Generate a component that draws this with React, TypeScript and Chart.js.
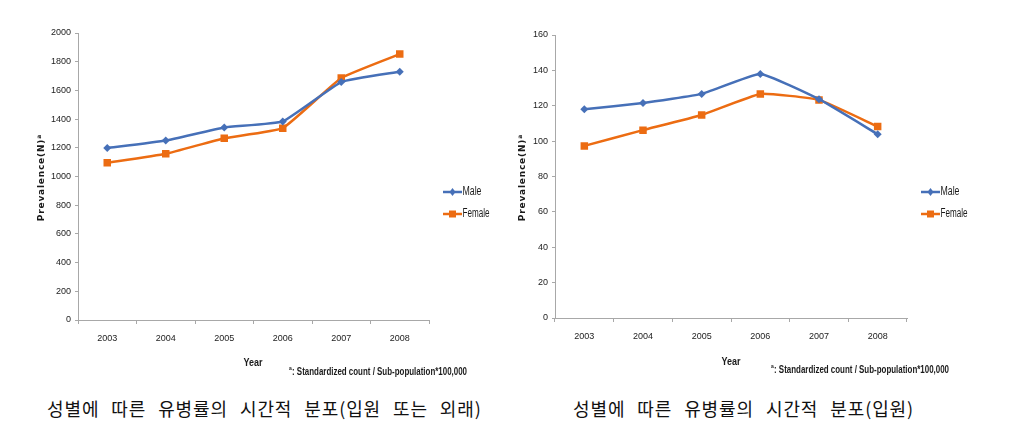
import React, { useEffect, useRef } from "react";
import { Chart, registerables } from "chart.js";

Chart.register(...registerables);

const years = ["2003", "2004", "2005", "2006", "2007", "2008"];
const maleTotal = [1198, 1251, 1342, 1384, 1658, 1730];
const femaleTotal = [1095, 1158, 1267, 1337, 1686, 1853];
const maleInpatient = [118.0, 121.6, 126.7, 138.0, 123.7, 103.9];
const femaleInpatient = [97.3, 106.2, 114.8, 126.7, 123.3, 108.2];
const seriesNames = ["Male", "Female"];
const captions = ["성별에 따른 유병률의 시간적 분포(입원 또는 외래)", "성별에 따른 유병률의 시간적 분포(입원)"];

const BLUE = "#4670B8";
const ORANGE = "#EC6C12";
const AXIS = "#A8A8A8";
const TICKFONT = "'Liberation Sans Narrow', 'Liberation Sans', sans-serif";

type Pos = {
  yTitle: [number, number];
  xTitle: [number, number];
  note: [number, number];
  legend: [number, number, number];
};

const annotate = (pos: Pos) => ({
  id: "annot",
  afterDraw(chart: any) {
    const ctx = chart.ctx as CanvasRenderingContext2D;
    ctx.save();
    // y title
    ctx.translate(pos.yTitle[0], pos.yTitle[1]);
    ctx.rotate(-Math.PI / 2);
    ctx.fillStyle = "#1a1a1a";
    ctx.font = "bold 9px 'DejaVu Sans', sans-serif";
    (ctx as any).letterSpacing = "0.8px";
    ctx.textAlign = "center";
    ctx.textBaseline = "middle";
    const t = "Prevalence(N)";
    const w = ctx.measureText(t).width;
    ctx.fillText(t, -3, 0);
    ctx.font = "bold 6px 'DejaVu Sans', sans-serif";
    ctx.textAlign = "left";
    ctx.fillText("a", -3 + w / 2, -3);
    ctx.restore();

    ctx.save();
    (ctx as any).letterSpacing = "0px";
    ctx.fillStyle = "#1a1a1a";
    ctx.font = "bold 11px " + TICKFONT;
    ctx.textAlign = "center";
    ctx.textBaseline = "middle";
    ctx.fillText("Year", pos.xTitle[0], pos.xTitle[1], 19);

    ctx.textAlign = "left";
    ctx.font = "bold 5px " + TICKFONT;
    ctx.fillText("a", pos.note[0], pos.note[1] - 3);
    ctx.font = "bold 10.5px " + TICKFONT;
    ctx.fillText(": Standardized count / Sub-population*100,000", pos.note[0] + 3, pos.note[1], 175);

    // legend
    const [lx, ly, gap] = pos.legend;
    const colors = [BLUE, ORANGE];
    seriesNames.forEach((name, i) => {
      const y = ly + i * gap;
      ctx.strokeStyle = colors[i];
      ctx.fillStyle = colors[i];
      ctx.lineWidth = 2.5;
      ctx.beginPath();
      ctx.moveTo(lx, y);
      ctx.lineTo(lx + 19, y);
      ctx.stroke();
      ctx.beginPath();
      const cx = lx + 9.5;
      if (i === 0) {
        ctx.moveTo(cx, y - 4);
        ctx.lineTo(cx + 3, y);
        ctx.lineTo(cx, y + 4);
        ctx.lineTo(cx - 3, y);
        ctx.closePath();
      } else {
        ctx.rect(cx - 3.5, y - 3.5, 7, 7);
      }
      ctx.fill();
      ctx.fillStyle = "#1a1a1a";
      ctx.font = "12px " + TICKFONT;
      ctx.textBaseline = "middle";
      ctx.fillText(name, lx + 19.5, y, i === 0 ? 19 : 27);
    });
    ctx.restore();
  },
});

function makeConfig(
  male: number[],
  female: number[],
  yMax: number,
  yStep: number,
  yWidth: number,
  xHeight: number,
  padding: any,
  pos: Pos
): any {
  return {
    type: "line",
    data: {
      labels: years,
      datasets: [
        {
          label: seriesNames[0],
          data: male,
          borderColor: BLUE,
          backgroundColor: BLUE,
          borderWidth: 2.5,
          pointStyle: "rectRot",
          pointRadius: 4,
          pointBorderWidth: 0,
          tension: 0.12,
        },
        {
          label: seriesNames[1],
          data: female,
          borderColor: ORANGE,
          backgroundColor: ORANGE,
          borderWidth: 2.5,
          pointStyle: "rect",
          pointRadius: 5.3,
          pointBorderWidth: 0,
          tension: 0.12,
        },
      ],
    },
    options: {
      animation: false,
      responsive: false,
      layout: { padding },
      plugins: { legend: { display: false }, tooltip: { enabled: false } },
      scales: {
        x: {
          offset: true,
          grid: {
            display: true,
            offset: true,
            drawOnChartArea: false,
            drawTicks: true,
            tickLength: 4,
            color: AXIS,
          },
          border: { display: true, color: AXIS, width: 1 },
          ticks: { color: "#222", font: { family: TICKFONT, size: 9 }, padding: 9, maxRotation: 0 },
          afterFit: (s: any) => {
            s.height = xHeight;
          },
        },
        y: {
          min: 0,
          max: yMax,
          grid: { display: true, drawOnChartArea: false, drawTicks: true, tickLength: 3, color: AXIS },
          border: { display: true, color: AXIS, width: 1 },
          ticks: {
            stepSize: yStep,
            color: "#222",
            font: { family: TICKFONT, size: 9 },
            padding: 4,
            callback: (v: any) => String(v),
          },
          afterFit: (s: any) => {
            s.width = yWidth;
          },
        },
      },
    },
    plugins: [annotate(pos)],
  };
}

function ChartBox(props: { left: number; width: number; height: number; config: any }) {
  const ref = useRef<HTMLCanvasElement | null>(null);
  useEffect(() => {
    if (!ref.current) return;
    const c = new Chart(ref.current, props.config);
    return () => c.destroy();
  }, []);
  return (
    <canvas
      ref={ref}
      width={props.width}
      height={props.height}
      style={{ position: "absolute", left: props.left, top: 0, width: props.width, height: props.height }}
    />
  );
}

export default function App() {
  const cfg1 = makeConfig(maleTotal, femaleTotal, 2000, 200, 78, 65, { left: 0, right: 79, top: 33, bottom: 0 }, {
    yTitle: [42, 177],
    xTitle: [253, 363],
    note: [289, 372],
    legend: [443, 192, 22],
  });
  const cfg2 = makeConfig(maleInpatient, femaleInpatient, 160, 20, 47, 67, { left: 0, right: 110, top: 35, bottom: 0 }, {
    yTitle: [15, 177],
    xTitle: [223, 362],
    note: [263, 370],
    legend: [413, 192, 22],
  });
  const capStyle: React.CSSProperties = {
    position: "absolute",
    top: 397,
    fontFamily: "'Noto Sans CJK KR', sans-serif",
    fontSize: 18,
    lineHeight: "22px",
    color: "#111",
    whiteSpace: "pre",
    letterSpacing: "0.9px",
    wordSpacing: "7px",
  };
  return (
    <div style={{ position: "absolute", left: 0, top: 0, width: 1017, height: 432, background: "#fff", overflow: "hidden" }}>
      <ChartBox left={0} width={508} height={385} config={cfg1} />
      <ChartBox left={508} width={509} height={385} config={cfg2} />
      <div style={{ ...capStyle, left: 47 }}>{captions[0]}</div>
      <div style={{ ...capStyle, left: 573 }}>{captions[1]}</div>
    </div>
  );
}
